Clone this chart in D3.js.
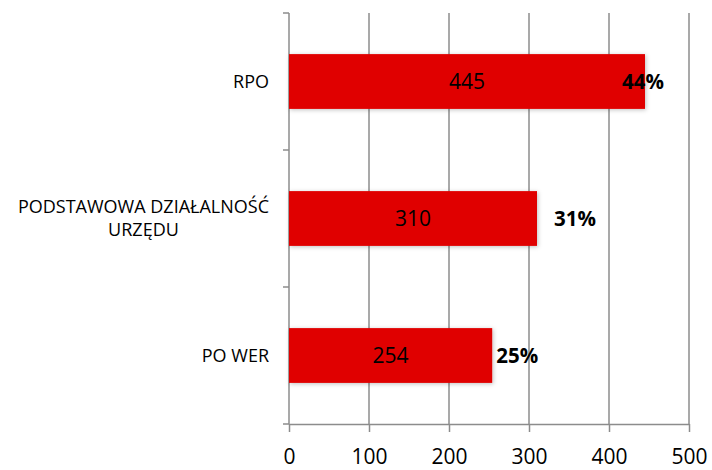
<!DOCTYPE html>
<html>
<head>
<meta charset="utf-8">
<script src="https://cdn.jsdelivr.net/npm/d3@7"></script>
<style>
  body { margin: 0; background: #fff; }
  text { font-family: "Open Sans", sans-serif; }
</style>
</head>
<body>
<div id="chart"></div>
<script>
const categories = ['RPO', 'PODSTAWOWA DZIAŁALNOŚĆ|URZĘDU', 'PO WER'];
const values = [445, 310, 254];
const shares = ['44%', '31%', '25%'];
const xTicks = [0, 100, 200, 300, 400, 500];

const w = 712, h = 470;
const margin = { top: 13, right: 22, bottom: 46, left: 289 };
const axisCol = '#8c8c8c';
const barCol = '#e00000';

// where each percent label sits relative to its bar end
const shareOffset = [-23, 17, 4];

const x = d3.scaleLinear()
  .domain([0, 500])
  .range([margin.left, w - margin.right - 1]);

const y = d3.scaleBand()
  .domain(categories)
  .range([margin.top, h - margin.bottom])
  .paddingInner(0.6)
  .paddingOuter(0.3);

const svg = d3.select('#chart')
  .append('svg')
  .attr('width', w)
  .attr('height', h);

const defs = svg.append('defs');
const shadow = defs.append('filter')
  .attr('id', 'shadow')
  .attr('x', '-5%').attr('y', '-20%')
  .attr('width', '115%').attr('height', '150%');
shadow.append('feDropShadow')
  .attr('dx', 1).attr('dy', 1)
  .attr('stdDeviation', 2)
  .attr('flood-color', '#000')
  .attr('flood-opacity', 0.25);

// vertical gridlines
svg.append('g')
  .selectAll('line')
  .data(xTicks.slice(1))
  .join('line')
  .attr('x1', d => x(d))
  .attr('x2', d => x(d))
  .attr('y1', margin.top)
  .attr('y2', h - margin.bottom)
  .attr('stroke', axisCol)
  .attr('stroke-width', 1.5);

// bottom axis
const xAxis = svg.append('g')
  .attr('transform', `translate(0,${h - margin.bottom})`)
  .call(d3.axisBottom(x).tickValues(xTicks).tickSize(8).tickSizeOuter(0));
xAxis.select('.domain').attr('stroke', axisCol).attr('stroke-width', 1.5);
xAxis.selectAll('.tick line').attr('stroke', axisCol).attr('stroke-width', 1.5);
xAxis.selectAll('.tick text')
  .attr('y', 25)
  .attr('dy', '0.71em')
  .style('font-size', '21px')
  .style('fill', '#000')
  .style('font-family', '"Open Sans", sans-serif');

// left axis with ticks between categories
const bounds = [margin.top];
categories.forEach(c => bounds.push(y(c) + y.bandwidth() + y.step() * 0.3));
svg.append('line')
  .attr('x1', margin.left).attr('x2', margin.left)
  .attr('y1', margin.top).attr('y2', h - margin.bottom)
  .attr('stroke', axisCol).attr('stroke-width', 1.5);
svg.append('g')
  .selectAll('line')
  .data(bounds)
  .join('line')
  .attr('x1', margin.left - 6).attr('x2', margin.left)
  .attr('y1', d => d).attr('y2', d => d)
  .attr('stroke', axisCol).attr('stroke-width', 1.5);

// bars
const rows = categories.map((c, i) => ({ cat: c, value: values[i], share: shares[i], i }));

svg.append('g')
  .selectAll('rect')
  .data(rows)
  .join('rect')
  .attr('x', x(0))
  .attr('y', d => y(d.cat))
  .attr('width', d => x(d.value) - x(0))
  .attr('height', y.bandwidth())
  .attr('fill', barCol)
  .attr('filter', 'url(#shadow)');

// value labels inside bars
svg.append('g')
  .selectAll('text')
  .data(rows)
  .join('text')
  .attr('x', d => (x(0) + x(d.value)) / 2)
  .attr('y', d => y(d.cat) + y.bandwidth() / 2)
  .attr('dy', '0.36em')
  .attr('text-anchor', 'middle')
  .style('font-size', '21px')
  .style('fill', '#000')
  .text(d => d.value);

// percent labels
svg.append('g')
  .selectAll('text')
  .data(rows)
  .join('text')
  .attr('x', d => x(d.value) + shareOffset[d.i])
  .attr('y', d => y(d.cat) + y.bandwidth() / 2)
  .attr('dy', '0.36em')
  .style('font-size', '20.5px')
  .style('font-weight', '700')
  .style('fill', '#000')
  .text(d => d.share);

// category labels
const catLabels = svg.append('g')
  .selectAll('text')
  .data(rows)
  .join('text')
  .attr('text-anchor', 'middle')
  .style('font-size', '18px')
  .style('fill', '#000');

catLabels.each(function (d) {
  const lines = d.cat.split('|');
  const t = d3.select(this);
  const cy = y(d.cat) + y.bandwidth() / 2;
  lines.forEach((ln, k) => {
    t.append('tspan')
      .attr('x', 0)
      .attr('y', cy + (k - (lines.length - 1) / 2) * 23)
      .attr('dy', '0.36em')
      .text(ln);
  });
  const bw = this.getBBox().width;
  t.attr('transform', `translate(${margin.left - 20 - bw / 2},0)`);
});
</script>
</body>
</html>
